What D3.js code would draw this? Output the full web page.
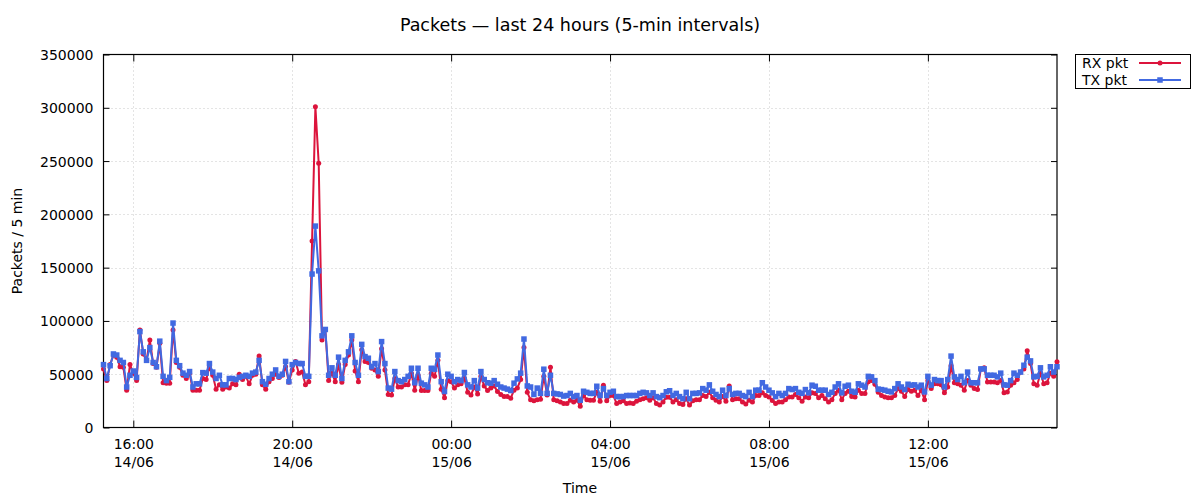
<!DOCTYPE html>
<html>
<head>
<meta charset="utf-8">
<script src="https://cdn.jsdelivr.net/npm/d3@7"></script>
<style>
  html, body { margin: 0; padding: 0; background: #fff; }
  svg text { font-family: "DejaVu Sans", Verdana, sans-serif; fill: #000; }
</style>
</head>
<body>
<svg id="chart" width="1200" height="500"></svg>
<script>
// ---- data ----
const title = "Packets — last 24 hours (5-min intervals)";
const xLabel = "Time";
const yLabel = "Packets / 5 min";
const seriesNames = ["RX pkt", "TX pkt"];
const startTime = [2025, 5, 14, 15, 15]; // 14/06 15:15, samples every 5 minutes
const intervalMinutes = 5;

const rxPackets = [
  55000,44000,59000,68000,66000,57000,56500,35000,59000,51000,
  44000,91500,69000,63000,82000,60000,56500,79000,42000,41500,
  41500,91500,61000,56500,49000,46000,51000,35000,35000,35000,
  46000,45000,56500,49000,36000,40000,36000,38000,37000,41000,
  40000,50000,45000,48000,41000,49000,50000,67000,40000,36000,
  43000,46000,50000,47000,49000,57000,42500,54000,62000,51000,
  52000,40000,43000,175000,301000,248000,82000,92000,44000,51000,
  43000,59000,42500,59000,68000,82000,53000,43000,73000,62000,
  61000,55600,54000,48000,74000,54000,31000,30600,46000,38000,
  38000,40000,40000,51000,35000,49000,34700,34700,34700,51000,
  48000,63000,36000,28000,44000,43000,37000,40000,41000,46000,
  33000,30600,38000,31500,48000,39000,34700,37000,39000,33700,
  31000,29000,29000,27500,35000,37000,45000,75000,33000,26000,
  25000,26000,26600,48000,30600,56600,26000,25000,24000,22500,
  22500,25600,24000,25600,20000,30000,26000,25600,25600,33000,
  24700,39700,25000,30000,30000,22500,24000,25000,22500,23000,
  22500,24700,26000,27000,28000,25600,28000,22500,21000,24000,
  28500,28300,24000,26000,22500,21600,27000,21000,25000,26000,
  26000,30000,29000,33000,28000,25600,24000,29000,24700,39000,
  26000,27000,27000,24000,22000,25600,24000,30000,30000,32500,
  30000,28700,25300,22500,24000,24000,26000,28700,28700,31000,
  28000,24700,28700,28000,32500,32000,28000,30000,27000,24000,
  26000,32000,35000,26000,32000,34000,29000,28700,35000,32000,
  32000,43000,44000,40500,33000,30000,28700,27800,27800,30000,
  36500,34000,29000,35600,34000,35000,30000,35000,26000,44000,
  36500,41000,41000,40000,32500,38000,58000,42000,41000,39700,
  35000,44000,39700,36500,35600,55000,56000,42800,42800,42800,
  42000,44000,32500,33400,39700,42000,45000,52000,55000,72000,
  60000,41000,39700,51000,41000,42000,51000,48000,61600
];

const txPackets = [
  59000,46000,58000,69000,68000,63000,61000,38000,49000,53000,
  47000,90000,71000,63000,75000,61000,57000,81000,48000,44000,
  47000,98000,63000,58000,51000,49000,52500,38000,41000,41000,
  51500,51000,60000,52000,46000,49000,40000,40000,46000,46000,
  45000,47000,48000,49000,48000,51000,52000,63000,43000,40600,
  46000,50000,54000,48000,50000,62000,43000,59000,61000,60000,
  60000,48000,48000,144000,189000,147000,86000,92000,49000,56000,
  49000,66000,46000,63000,71000,86000,61000,49000,78000,66500,
  65000,57000,60000,52500,80600,60000,37000,36000,52500,44000,
  43000,45000,48000,55600,42000,55600,41600,40000,38000,55600,
  54700,68000,43000,33800,50000,48000,43000,45000,44000,51600,
  40000,38000,44000,37000,52500,45000,42000,41600,44000,40600,
  38000,37000,36000,34700,41600,45600,51000,83000,39000,38000,
  31000,37000,32000,54700,32000,49000,32000,31500,31000,29500,
  30000,32000,29000,30000,25600,34000,33000,32000,32000,38700,
  30000,36500,30000,33000,34000,29000,29000,29000,30000,30000,
  30000,30000,32000,33000,32500,30000,32500,29000,28000,30000,
  33500,34500,30000,32000,29000,27000,33000,27000,32000,32000,
  32500,36500,35000,40000,34000,31000,29000,35000,30000,36500,
  31000,32000,32000,30000,29000,33000,29000,35000,35000,42000,
  38000,35000,32500,29000,32000,30000,32000,36500,35600,36500,
  33000,32000,35600,32500,39700,38700,35000,35000,35000,31000,
  33000,38000,41000,32500,38700,39700,34000,33000,41000,39700,
  38000,48000,47500,44000,36000,35600,35000,34000,33400,36500,
  41000,38000,35600,40600,39700,40000,38000,39700,33400,48000,
  39700,45000,44000,44000,38000,45000,67000,47500,45000,48000,
  42000,52000,42000,42000,42000,55000,55000,49000,49000,49000,
  47500,51000,40000,39700,44000,51000,49000,52000,58400,66000,
  62500,47500,48000,56000,47500,49000,57000,52000,57000
];

const yTicks = [0, 50000, 100000, 150000, 200000, 250000, 300000, 350000];
const xTickTimes = [[2025,5,14,16,0],[2025,5,14,20,0],[2025,5,15,0,0],[2025,5,15,4,0],[2025,5,15,8,0],[2025,5,15,12,0]];
const colors = { rx: "#dc143c", tx: "#4169e1" };

// ---- build ----
const t0 = new Date(...startTime);
const times = rxPackets.map((_, i) => new Date(t0.getTime() + i * intervalMinutes * 60000));
const rxData = times.map((t, i) => ({ t, v: rxPackets[i] }));
const txData = times.map((t, i) => ({ t, v: txPackets[i] }));

const svg = d3.select("#chart");
const W = 1200, H = 500;
const m = { left: 103.5, right: 143, top: 54.5, bottom: 72.5 };
const x0 = m.left, x1 = W - m.right, y0 = H - m.bottom, y1 = m.top;

const x = d3.scaleTime().domain(d3.extent(times)).range([x0, x1]);
const y = d3.scaleLinear().domain([0, 350000]).range([y0, y1]);
const xTicks = xTickTimes.map(a => new Date(...a));

// grid
const grid = svg.append("g").attr("stroke", "#c8c8c8").attr("stroke-width", 1).attr("stroke-dasharray", "1,3");
grid.selectAll("line.gy").data(yTicks.filter(v => v > 0 && v < 350000)).join("line")
  .attr("x1", x0).attr("x2", x1).attr("y1", d => Math.round(y(d)) + 0.5).attr("y2", d => Math.round(y(d)) + 0.5);
grid.selectAll("line.gx").data(xTicks).join("line")
  .attr("y1", y0).attr("y2", y1).attr("x1", d => Math.round(x(d)) + 0.5).attr("x2", d => Math.round(x(d)) + 0.5);

// axes (gnuplot-like mirrored inward ticks)
const axL = svg.append("g").attr("transform", `translate(${x0},0)`)
  .call(d3.axisLeft(y).tickValues(yTicks).tickSize(-6).tickPadding(10).tickFormat(d3.format("d")));
const axR = svg.append("g").attr("transform", `translate(${x1},0)`)
  .call(d3.axisRight(y).tickValues(yTicks).tickSize(-6).tickFormat(""));
const axB = svg.append("g").attr("transform", `translate(0,${y0})`)
  .call(d3.axisBottom(x).tickValues(xTicks).tickSize(-7).tickPadding(14).tickFormat(d3.timeFormat("%H:%M")));
const axT = svg.append("g").attr("transform", `translate(0,${y1})`)
  .call(d3.axisTop(x).tickValues(xTicks).tickSize(-7).tickFormat(""));
[axL, axR, axB, axT].forEach(a => {
  a.select(".domain").remove();
  a.selectAll("line").attr("stroke", "#000");
  a.selectAll("text").attr("font-size", 14).attr("font-family", '"DejaVu Sans", sans-serif').attr("fill", "#000");
});
axL.selectAll("text").attr("dy", "0.36em");
// second line of x tick labels (date)
axB.selectAll(".tick").append("text")
  .attr("y", 14 + 18).attr("dy", "0.71em").attr("text-anchor", "middle")
  .attr("font-size", 14).attr("font-family", '"DejaVu Sans", sans-serif').attr("fill", "#000")
  .text(d => d3.timeFormat("%d/%m")(d));
axB.selectAll(".tick text").attr("y", 12);
axB.selectAll(".tick text:nth-of-type(2)").attr("y", 30);

// frame
svg.append("rect").attr("x", x0).attr("y", y1).attr("width", x1 - x0).attr("height", y0 - y1)
  .attr("fill", "none").attr("stroke", "#000").attr("stroke-width", 1.2);

// series
const line = d3.line().x(d => x(d.t)).y(d => y(d.v));
const plot = svg.append("g");
plot.append("path").datum(rxData).attr("d", line).attr("fill", "none").attr("stroke", colors.rx).attr("stroke-width", 2).attr("stroke-linejoin", "round");
plot.selectAll("circle.rx").data(rxData).join("circle").attr("class", "rx")
  .attr("cx", d => x(d.t)).attr("cy", d => y(d.v)).attr("r", 2.5).attr("fill", colors.rx);
plot.append("path").datum(txData).attr("d", line).attr("fill", "none").attr("stroke", colors.tx).attr("stroke-width", 2).attr("stroke-linejoin", "round");
plot.selectAll("rect.tx").data(txData).join("rect").attr("class", "tx")
  .attr("x", d => x(d.t) - 2.75).attr("y", d => y(d.v) - 2.75).attr("width", 5.5).attr("height", 5.5).attr("fill", colors.tx);

// titles
svg.append("text").attr("x", 580).attr("y", 31).attr("text-anchor", "middle").attr("font-size", 17.5).text(title);
svg.append("text").attr("x", 580).attr("y", 493).attr("text-anchor", "middle").attr("font-size", 14).text(xLabel);
svg.append("text").attr("transform", `translate(22,${(y0 + y1) / 2}) rotate(-90)`).attr("text-anchor", "middle").attr("font-size", 14).text(yLabel);

// legend
const lg = svg.append("g");
lg.append("rect").attr("x", 1075.5).attr("y", 54.5).attr("width", 115).attr("height", 34).attr("fill", "#fff").attr("stroke", "#000").attr("stroke-width", 1);
const items = [{ name: seriesNames[0], c: colors.rx, shape: "circle" }, { name: seriesNames[1], c: colors.tx, shape: "square" }];
items.forEach((it, i) => {
  const cy = 63 + i * 17;
  lg.append("text").attr("x", 1082).attr("y", cy).attr("dy", "0.36em").attr("font-size", 14).text(it.name);
  lg.append("line").attr("x1", 1139).attr("x2", 1181).attr("y1", cy).attr("y2", cy).attr("stroke", it.c).attr("stroke-width", 2);
  if (it.shape === "circle") lg.append("circle").attr("cx", 1160).attr("cy", cy).attr("r", 2.5).attr("fill", it.c);
  else lg.append("rect").attr("x", 1160 - 2.75).attr("y", cy - 2.75).attr("width", 5.5).attr("height", 5.5).attr("fill", it.c);
});
</script>
</body>
</html>
